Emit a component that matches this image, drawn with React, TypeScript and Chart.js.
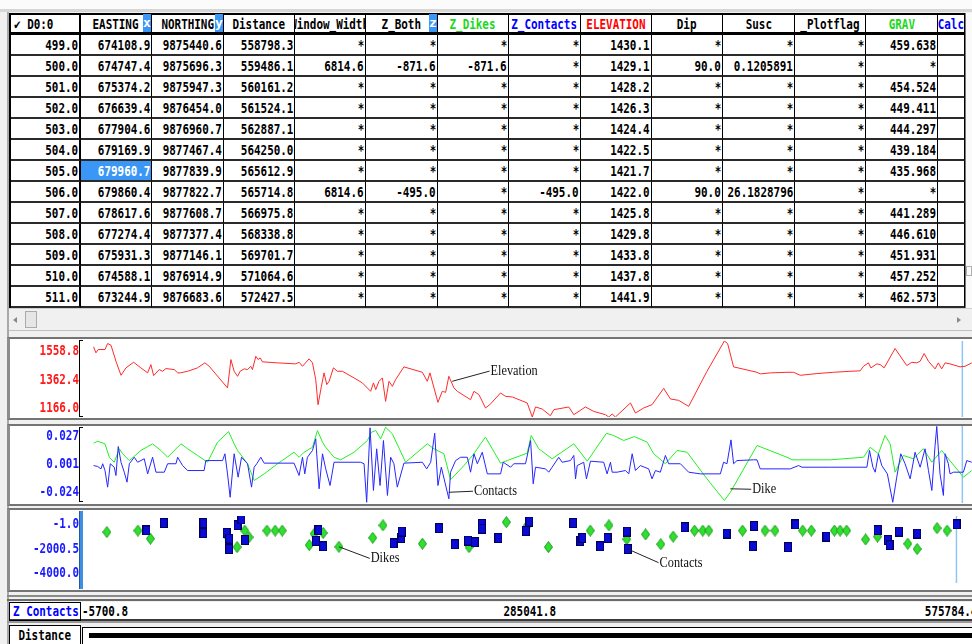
import React, { useEffect, useRef } from 'react';
import { Chart, registerables } from 'chart.js';

Chart.register(...registerables);

// ================= spreadsheet data =================
const rowIds = [499, 500, 501, 502, 503, 504, 505, 506, 507, 508, 509, 510, 511];
const easting = [674108.9, 674747.4, 675374.2, 676639.4, 677904.6, 679169.9, 679960.7, 679860.4, 678617.6, 677274.4, 675931.3, 674588.1, 673244.9];
const northing = [9875440.6, 9875696.3, 9875947.3, 9876454.0, 9876960.7, 9877467.4, 9877839.9, 9877822.7, 9877608.7, 9877377.4, 9877146.1, 9876914.9, 9876683.6];
const distance = [558798.3, 559486.1, 560161.2, 561524.1, 562887.1, 564250.0, 565612.9, 565714.8, 566975.8, 568338.8, 569701.7, 571064.6, 572427.5];
const windowWidth = [null, 6814.6, null, null, null, null, null, 6814.6, null, null, null, null, null];
const zBoth = [null, -871.6, null, null, null, null, null, -495.0, null, null, null, null, null];
const zDikes = [null, -871.6, null, null, null, null, null, null, null, null, null, null, null];
const zContacts = [null, null, null, null, null, null, null, -495.0, null, null, null, null, null];
const elevation = [1430.1, 1429.1, 1428.2, 1426.3, 1424.4, 1422.5, 1421.7, 1422.0, 1425.8, 1429.8, 1433.8, 1437.8, 1441.9];
const dip = [null, 90.0, null, null, null, null, null, 90.0, null, null, null, null, null];
const susc = [null, 0.1205891, null, null, null, null, null, 26.1828796, null, null, null, null, null];
const plotflag = [null, null, null, null, null, null, null, null, null, null, null, null, null];
const grav = [459.638, null, 454.524, 449.411, 444.297, 439.184, 435.968, null, 441.289, 446.610, 451.931, 457.252, 462.573];
const calc: (number | null)[] = [];
const selectedRow = 6;

// ================= profile data =================
const X_MIN = -5700.8;
const X_MAX = 575784.4;

const elevDist = [1200, 2700, 4200, 8600, 10300, 12500, 15700, 19000, 22200, 27200,
  31900, 36300, 38400, 40200, 43800, 46000, 48200, 53600, 55800, 57500,
  62300, 68700, 73500, 76300, 88200, 90400, 92500, 94700, 96400, 99000,
  101200, 103300, 104400, 106600, 108100, 109400, 110900, 120700, 132500, 134700,
  136900, 141200, 143400, 145500, 147000, 149200, 150900, 152700, 154200, 157000,
  159600, 162800, 170400, 175800, 181200, 183000, 184500, 186600, 188800, 190900,
  193100, 195300, 197400, 202800, 214800, 218000, 219700, 224900, 227700, 229900,
  232000, 235300, 237500, 246100, 248300, 251500, 252600, 255800, 258600, 265600,
  268800, 273200, 282900, 286200, 288300, 292600, 298000, 300200, 309900, 313200,
  320700, 326100, 333700, 335900, 338100, 340200, 350000, 353200, 358600, 364000,
  371600, 375900, 381300, 387800, 399700, 411000, 413100, 417000, 432200, 434300,
  440800, 451700, 455900, 460300, 471100, 481900, 492700, 499200, 501400, 504600,
  506200, 510100, 512200, 514800, 521900, 529500, 532800, 536000, 538200, 540800,
  543600, 547900, 550000, 552200, 554400, 557600, 564100, 567400, 571700];
const elevVal = [1528.7, 1497.6, 1514.7, 1514.7, 1545.8, 1537.0, 1454.1, 1381.6, 1419.9, 1448.9,
  1419.9, 1394.0, 1437.0, 1380.0, 1411.1, 1402.3, 1416.3, 1411.1, 1394.0, 1394.0,
  1402.3, 1419.9, 1445.8, 1428.2, 1316.3, 1462.9, 1402.3, 1376.4, 1402.3, 1414.7,
  1411.1, 1428.2, 1411.1, 1480.0, 1462.9, 1471.7, 1451.0, 1445.8, 1440.6, 1448.9,
  1428.2, 1466.6, 1445.8, 1359.3, 1229.7, 1324.6, 1394.0, 1333.4, 1350.5, 1419.9,
  1402.3, 1402.3, 1368.1, 1342.2, 1298.7, 1342.2, 1307.5, 1350.5, 1368.1, 1246.8,
  1350.5, 1324.6, 1359.3, 1425.1, 1397.1, 1350.5, 1394.0, 1241.7, 1298.7, 1293.5,
  1376.4, 1316.3, 1298.7, 1255.6, 1298.7, 1281.6, 1264.5, 1212.6, 1229.7, 1290.4,
  1272.7, 1269.6, 1238.5, 1166.0, 1217.8, 1207.5, 1172.7, 1203.8, 1217.8, 1177.9,
  1217.8, 1195.0, 1177.9, 1166.0, 1181.5, 1166.0, 1238.5, 1186.7, 1212.6, 1229.7,
  1314.2, 1259.3, 1252.0, 1220.9, 1402.3, 1558.8, 1545.8, 1425.1, 1397.1, 1388.8,
  1394.0, 1397.1, 1397.1, 1381.6, 1390.4, 1397.1, 1402.3, 1404.4, 1428.2, 1445.8,
  1419.9, 1440.6, 1437.0, 1419.9, 1519.9, 1431.8, 1448.9, 1445.8, 1454.1, 1494.0,
  1454.1, 1414.7, 1445.8, 1414.7, 1445.8, 1440.6, 1425.1, 1428.2, 1445.8];

const dikeDist = [1200, 3800, 8600, 11400, 14600, 17900, 20100, 24400, 31900, 39500,
  44900, 49300, 57900, 62300, 68700, 75200, 81700, 88900, 92500, 94700,
  101200, 105500, 112000, 120700, 131400, 134700, 137900, 143400, 146600, 149900,
  152000, 157400, 161700, 170400, 179100, 181700, 184500, 187700, 190900, 195300,
  203900, 218000, 222300, 228800, 233100, 241800, 248300, 252600, 255800, 265600,
  269900, 282900, 285500, 290400, 299100, 313200, 321900, 334400, 339100, 345600,
  352600, 360800, 365100, 372700, 380300, 386800, 399700, 411000, 414900, 432200,
  451700, 454900, 479800, 501400, 505700, 511100, 515400, 518700, 521900, 527300,
  533800, 540300, 545800, 552200, 566300, 571700];
const dikeVal = [0.0156, 0.0169, 0.0152, 0.0063, 0.0030, 0.0119, 0.0086, 0.0041, 0.0108, 0.0152,
  0.0108, 0.0063, 0.0152, 0.0119, 0.0075, 0.0030, 0.0163, 0.0233, 0.0152, 0.0108,
  0.0020, -0.0091, -0.0047, 0.0020, 0.0096, 0.0063, 0.0096, 0.0129, 0.0240, 0.0163,
  0.0129, 0.0063, 0.0046, 0.0096, 0.0174, 0.0229, 0.0240, 0.0185, 0.0262, 0.0218,
  0.0030, 0.0152, 0.0119, 0.0086, -0.0086, 0.0008, 0.0086, 0.0152, 0.0196, 0.0024,
  0.0041, 0.0090, 0.0207, 0.0119, 0.0053, 0.0152, 0.0037, 0.0222, 0.0207, 0.0174,
  0.0200, 0.0163, 0.0086, 0.0020, 0.0108, 0.0096, -0.0080, -0.0223, -0.0169, 0.0141,
  0.0063, 0.0046, 0.0046, 0.0063, 0.0129, 0.0086, 0.0207, 0.0152, -0.0036, 0.0075,
  0.0053, 0.0119, 0.0030, 0.0108, -0.0069, -0.0025];

const contDist = [1200, 3800, 6000, 7100, 8600, 10300, 12000, 14600, 15700, 17200,
  19000, 21100, 22900, 24400, 27600, 29800, 34100, 36300, 39500, 41700,
  47100, 49300, 54700, 55800, 59000, 62300, 73000, 74100, 85000, 86500,
  88200, 89900, 92500, 95100, 97300, 101200, 103800, 105500, 107200, 109800,
  112000, 131400, 134700, 136900, 138400, 140100, 143400, 145500, 147700, 149900,
  152000, 154800, 157400, 163900, 174700, 176900, 178600, 180800, 183000, 185100,
  187300, 189500, 192100, 194200, 196300, 198500, 202800, 214800, 217600, 220200,
  222800, 224900, 227100, 232000, 233100, 236400, 239600, 244000, 246100, 248300,
  250500, 253700, 257000, 265600, 267300, 272100, 274200, 281800, 285100, 286800,
  288300, 294800, 296900, 299100, 303400, 305600, 311000, 313200, 314300, 315400,
  319600, 321400, 324000, 332600, 334800, 337000, 338100, 341300, 346700, 348900,
  351100, 353200, 356400, 361800, 364000, 366200, 369400, 372700, 374800, 382400,
  387800, 395400, 408400, 410500, 412700, 415300, 417000, 419200, 430000, 432200,
  434300, 453800, 459200, 461400, 479800, 503600, 505300, 507500, 509000, 511100,
  513300, 516900, 520400, 523000, 525600, 528400, 531700, 534900, 538200, 541400,
  543600, 545800, 547900, 549000, 551100, 553300, 554400, 556500, 557600, 559800,
  566300, 568500, 571700];
const contVal = [0.0008, 0.0002, -0.0014, 0.0020, -0.0025, -0.0135, 0.0020, -0.0003, -0.0058, 0.0134,
  0.0030, -0.0036, -0.0102, 0.0020, 0.0063, 0.0030, 0.0053, -0.0047, 0.0063, -0.0036,
  -0.0036, 0.0020, 0.0020, 0.0063, 0.0008, -0.0025, -0.0025, 0.0041, 0.0041, 0.0086,
  -0.0047, -0.0202, 0.0086, -0.0069, 0.0063, 0.0020, -0.0135, -0.0003, 0.0020, 0.0063,
  0.0024, 0.0024, -0.0058, 0.0063, -0.0047, 0.0063, 0.0108, 0.0185, -0.0146, 0.0086,
  -0.0014, -0.0124, 0.0030, 0.0030, 0.0030, 0.0020, -0.0235, 0.0258, -0.0157, 0.0119,
  -0.0124, 0.0174, -0.0190, 0.0063, 0.0020, -0.0135, 0.0024, 0.0030, -0.0014, 0.0030,
  0.0222, -0.0124, -0.0003, -0.0212, -0.0036, 0.0041, 0.0063, 0.0063, -0.0036, 0.0086,
  0.0020, 0.0096, -0.0047, -0.0047, 0.0030, -0.0003, 0.0020, 0.0020, 0.0174, -0.0113,
  -0.0003, -0.0014, -0.0036, -0.0003, 0.0063, 0.0030, 0.0041, 0.0075, -0.0080, 0.0008,
  0.0030, -0.0080, 0.0037, 0.0030, -0.0047, 0.0030, -0.0036, -0.0036, -0.0025, -0.0047,
  0.0086, -0.0025, 0.0008, -0.0014, -0.0080, -0.0025, -0.0036, 0.0075, 0.0020, 0.0020,
  -0.0036, -0.0047, -0.0047, 0.0030, 0.0020, 0.0178, 0.0020, 0.0041, 0.0046, 0.0046,
  -0.0014, -0.0014, 0.0008, -0.0003, -0.0003, -0.0003, 0.0108, -0.0003, -0.0036, 0.0086,
  0.0008, -0.0047, -0.0235, -0.0069, 0.0086, 0.0020, -0.0080, 0.0096, -0.0003, 0.0119,
  -0.0025, -0.0157, 0.0141, 0.0267, -0.0047, -0.0190, 0.0086, 0.0020, -0.0047, -0.0036,
  -0.0036, 0.0041, 0.0030];

const dikesZDist = [9900, 30200, 38400, 89100, 95100, 100100, 102900, 114600, 120000, 124600,
  142300, 145500, 151400, 161700, 183800, 190500, 216300, 246800, 271200, 285100,
  298700, 326100, 338300, 350000, 362300, 372200, 380300, 394300, 399700, 403600,
  425700, 440400, 446900, 465000, 470700, 485800, 489500, 493800, 506200, 514000,
  533800, 539900, 552900, 559500];
const dikesZ = [-962, -871.6, -1352, -1266, -1858, -871.6, -1266, -871.6, -871.6, -871.6,
  -1737, -1064, -1013, -1838, -1301, -558, -1656, -1858, -370, -558,
  -1858, -871.6, -558, -1382, -1099, -1686, -1231, -871.6, -871.6, -871.6,
  -871.6, -871.6, -871.6, -871.6, -871.6, -871.6, -871.6, -871.6, -1403, -1231,
  -1656, -1974, -725, -871.6];

const contactsZDist = [35800, 47100, 73000, 73000, 88200, 89900, 89900, 95400, 97900, 100300,
  146600, 148300, 151400, 197400, 202400, 202800, 227300, 237500, 246100, 250500,
  255200, 255200, 266000, 284000, 286200, 314900, 319600, 320900, 332600, 337400,
  350000, 350600, 387800, 415300, 433200, 432600, 455500, 460300, 480600, 514000,
  520800, 521900, 528000, 539900, 565700];
const contactsZ = [-861, -421, -421, -1028, -1013, -1352, -1974, -542, -203, -1433,
  -1484, -846, -1807, -1635, -1317, -927, -725, -1686, -1468, -1570,
  -472, -760, -1317, -897, -340, -421, -1484, -1317, -1807, -1317,
  -927, -1974, -674, -1048, -593, -1807, -1858, -507, -1231, -846,
  -1433, -1737, -927, -1048, -495.0];

const elevTicks = [1166.0, 1362.4, 1558.8];
const elevTickLabels = ['1166.0', '1362.4', '1558.8'];
const gradTicks = [-0.024, 0.0015, 0.027];
const gradTickLabels = ['-0.024', '0.001', '0.027'];
const depthTicks = [-4000.0, -2000.5, -1.0];
const depthTickLabels = ['-4000.0', '-2000.5', '-1.0'];

type Note = { text: string; ax: number; ay: number; tx: number; ty: number };
const elevNotes: Note[] = [{ text: 'Elevation', ax: 234200, ay: 1350.5, tx: 259100, ty: 1403.3 }];
const gradNotes: Note[] = [
  { text: 'Contacts', ax: 232000, ay: -0.0169, tx: 248300, ty: -0.0162 },
  { text: 'Dike', ax: 414900, ay: -0.0146, tx: 429100, ty: -0.0149 },
];
const depthNotes: Note[] = [
  { text: 'Dikes', ax: 161700, ay: -1838, tx: 182500, ty: -2531 },
  { text: 'Contacts', ax: 350600, ay: -1974, tx: 371400, ty: -2784 },
];

// ================= layout / styles =================
const MONO = '"DejaVu Sans Mono", "Liberation Mono", monospace';
const SQ = 0.78;
const CANVAS_L = 10;
const CANVAS_W = 968;
const AXIS_W = 73;
const colEdges = [11, 81, 152, 224, 295, 366, 438, 509, 581, 652, 723, 795, 866, 938, 965];
const HEAD_TOP = 13;
const ROW0 = 35;
const ROW_H = 21;

type Val = number | null | undefined;
const sheetCols: { name: string; values: Val[]; dec: number; color: string; tag?: string }[] = [
  { name: 'EASTING', values: easting, dec: 1, color: '#000', tag: 'x' },
  { name: 'NORTHING', values: northing, dec: 1, color: '#000', tag: 'y' },
  { name: 'Distance', values: distance, dec: 1, color: '#000' },
  { name: 'Window_Width', values: windowWidth, dec: 1, color: '#000' },
  { name: 'Z_Both', values: zBoth, dec: 1, color: '#000', tag: 'z' },
  { name: 'Z_Dikes', values: zDikes, dec: 1, color: '#1ed81e' },
  { name: 'Z_Contacts', values: zContacts, dec: 1, color: '#0000ff' },
  { name: 'ELEVATION', values: elevation, dec: 1, color: '#ff0000' },
  { name: 'Dip', values: dip, dec: 1, color: '#000' },
  { name: 'Susc', values: susc, dec: 7, color: '#000' },
  { name: '_Plotflag', values: plotflag, dec: 1, color: '#000' },
  { name: 'GRAV', values: grav, dec: 3, color: '#1ed81e' },
  { name: 'Calc', values: calc, dec: 1, color: '#0000ff' },
];

function fmt(v: Val, dec: number) {
  if (v === undefined) return '';
  if (v === null) return '*';
  return v.toFixed(dec);
}

function Cell(p: {
  left: number; top: number; width: number; height: number; text: string;
  align: 'left' | 'right' | 'center'; color?: string; bg?: string; bR?: string; bT?: string; bB?: string; bL?: string;
}) {
  const jc = p.align === 'right' ? 'flex-end' : p.align === 'left' ? 'flex-start' : 'center';
  const origin = p.align === 'right' ? 'right center' : p.align === 'left' ? 'left center' : 'center center';
  return (
    <div style={{
      position: 'absolute', left: p.left, top: p.top, width: p.width, height: p.height, boxSizing: 'border-box',
      borderRight: p.bR, borderTop: p.bT, borderBottom: p.bB, borderLeft: p.bL, background: p.bg,
      display: 'flex', alignItems: 'center', justifyContent: jc, overflow: 'hidden',
      paddingRight: p.align === 'right' ? 1 : 0, paddingLeft: p.align === 'left' ? 3 : 0,
    }}>
      <span style={{
        flexShrink: 0, whiteSpace: 'pre', display: 'inline-block', transform: `scaleX(${SQ})`, transformOrigin: origin,
        color: p.color || '#000', fontFamily: MONO, fontWeight: 700, fontSize: 14, lineHeight: '14px',
      }}>{p.text}</span>
    </div>
  );
}

function Sheet() {
  const out: React.ReactNode[] = [];
  const headers = ['\u2714 D0:0', ...sheetCols.map((c) => c.name)];
  headers.forEach((h, c) => {
    out.push(
      <Cell key={'h' + c} left={colEdges[c]} top={HEAD_TOP} width={colEdges[c + 1] - colEdges[c]} height={ROW0 - HEAD_TOP}
        text={h} align={c === 0 ? 'left' : 'center'} color={c === 0 ? '#000' : sheetCols[c - 1].color}
        bR={c === 0 ? '2px solid #000' : '1px solid #000'} bT="2px solid #000" bB="3px solid #000" bg="#fff" />
    );
    const tag = c > 0 ? sheetCols[c - 1].tag : undefined;
    if (tag) {
      out.push(
        <div key={'t' + c} style={{
          position: 'absolute', left: colEdges[c + 1] - 9, top: HEAD_TOP + 1, width: 8, height: 18, background: '#3a97f5',
          color: '#fff', fontFamily: MONO, fontWeight: 700, fontSize: 13, lineHeight: '18px', textAlign: 'center', overflow: 'hidden',
        }}>{tag}</div>
      );
    }
  });
  rowIds.forEach((id, r) => {
    const top = ROW0 + r * ROW_H;
    out.push(
      <Cell key={'r' + r} left={colEdges[0]} top={top} width={colEdges[1] - colEdges[0]} height={ROW_H}
        text={id.toFixed(1)} align="right" bR="2px solid #000" bB="2px solid #2a2a2a" bg="#fff" />
    );
    sheetCols.forEach((col, c) => {
      const sel = r === selectedRow && c === 0;
      out.push(
        <Cell key={'c' + r + '_' + c} left={colEdges[c + 1]} top={top} width={colEdges[c + 2] - colEdges[c + 1]} height={ROW_H}
          text={fmt(col.values[r], col.dec)} align="right" color={sel ? '#fff' : '#000'} bg={sel ? '#3a97f5' : '#fff'}
          bR="1px solid #000" bB="2px solid #2a2a2a" />
      );
    });
  });
  return (
    <>
      <div style={{ position: 'absolute', left: 9, top: HEAD_TOP, width: 2, height: ROW0 + rowIds.length * ROW_H - HEAD_TOP, background: '#000' }} />
      {out}
    </>
  );
}

// ----- chart overlay plugin: cursor line, notes, y labels -----
const overlay = {
  id: 'overlay',
  beforeDatasetsDraw(chart: any, _a: any, opts: any) {
    const { ctx, chartArea: a, scales } = chart;
    const x = scales.x.getPixelForValue(opts.cursor);
    ctx.save();
    ctx.strokeStyle = '#8ec5f7';
    ctx.lineWidth = 1.5;
    ctx.beginPath();
    ctx.moveTo(x, a.top);
    ctx.lineTo(x, a.bottom);
    ctx.stroke();
    ctx.restore();
  },
  afterDatasetsDraw(chart: any, _a: any, opts: any) {
    const { ctx, scales } = chart;
    for (const n of opts.notes as Note[]) {
      const ax = scales.x.getPixelForValue(n.ax);
      const ay = scales.y.getPixelForValue(n.ay);
      const tx = scales.x.getPixelForValue(n.tx);
      const ty = scales.y.getPixelForValue(n.ty);
      ctx.save();
      ctx.strokeStyle = '#222';
      ctx.lineWidth = 1;
      ctx.beginPath();
      ctx.moveTo(ax, ay);
      ctx.lineTo(tx - 1, ty);
      ctx.stroke();
      ctx.translate(tx, ty);
      ctx.scale(0.82, 1);
      ctx.font = '15px "Liberation Serif", "DejaVu Serif", serif';
      ctx.fillStyle = '#111';
      ctx.textAlign = 'left';
      ctx.textBaseline = 'middle';
      ctx.fillText(n.text, 0, 0);
      ctx.restore();
    }
    const s = chart.scales.yl;
    s.ticks.forEach((t: any, i: number) => {
      const y = s.getPixelForValue(t.value);
      ctx.save();
      ctx.translate(s.right - 4, y);
      ctx.scale(SQ, 1);
      ctx.font = 'bold 14px ' + MONO;
      ctx.fillStyle = opts.labelColor;
      ctx.textAlign = 'right';
      ctx.textBaseline = 'middle';
      ctx.fillText(opts.labels[i], 0, 0);
      ctx.restore();
    });
  },
};

type Series = { xs: number[]; ys: number[]; color: string; marker?: 'diamond' | 'square' };

function markerCanvas(kind: 'diamond' | 'square') {
  const c = document.createElement('canvas');
  const g = c.getContext('2d')!;
  if (kind === 'diamond') {
    c.width = 9; c.height = 12;
    g.beginPath();
    g.moveTo(4.5, 0.5); g.lineTo(8.5, 6); g.lineTo(4.5, 11.5); g.lineTo(0.5, 6); g.closePath();
    g.fillStyle = '#2fe02f'; g.fill();
    g.strokeStyle = '#189a18'; g.lineWidth = 1; g.stroke();
  } else {
    c.width = 8; c.height = 10;
    g.fillStyle = '#0b0bd6'; g.fillRect(0, 0, 8, 10);
    g.strokeStyle = '#00005a'; g.lineWidth = 1; g.strokeRect(0.5, 0.5, 7, 9);
  }
  return c;
}

function Profile(p: {
  top: number; height: number; yMin: number; yMax: number; tickVals: number[]; tickLabels: string[];
  tickColor: string; insetTop: number; insetBottom: number; series: Series[]; notes: Note[];
}) {
  const ref = useRef<HTMLCanvasElement>(null);
  useEffect(() => {
    const k = (p.yMax - p.yMin) / (p.height - p.insetTop - p.insetBottom);
    const datasets = p.series.map((s) => {
      const data = s.xs.map((x, i) => ({ x, y: s.ys[i] }));
      if (s.marker) {
        return {
          data, showLine: false, pointStyle: markerCanvas(s.marker), pointRadius: 5, pointHoverRadius: 5,
          borderColor: s.color, backgroundColor: s.color, yAxisID: 'y',
        };
      }
      return {
        data, borderColor: s.color, borderWidth: 1, pointRadius: 0, tension: 0, fill: false, yAxisID: 'y',
      };
    });
    const chart = new Chart(ref.current!, {
      type: 'line',
      data: { datasets: datasets as any },
      options: {
        animation: false,
        responsive: false,
        maintainAspectRatio: false,
        events: [],
        layout: { padding: 0 },
        plugins: {
          legend: { display: false },
          tooltip: { enabled: false },
          overlay: { cursor: distance[selectedRow], notes: p.notes, labels: p.tickLabels, labelColor: p.tickColor },
        } as any,
        scales: {
          x: { type: 'linear', min: X_MIN, max: X_MAX, display: false },
          y: { type: 'linear', min: p.yMin, max: p.yMax, display: false },
          yl: {
            type: 'linear', position: 'left',
            min: p.yMin - p.insetBottom * k, max: p.yMax + p.insetTop * k,
            grid: { display: false }, border: { display: false }, ticks: { display: false },
            afterBuildTicks: (s: any) => { s.ticks = p.tickVals.map((v) => ({ value: v })); },
            afterFit: (s: any) => { s.width = AXIS_W; },
          },
        } as any,
      },
      plugins: [overlay as any],
    });
    return () => chart.destroy();
  }, []);
  return (
    <canvas ref={ref} width={CANVAS_W} height={p.height}
      style={{ position: 'absolute', left: CANVAS_L, top: p.top, width: CANVAS_W, height: p.height }} />
  );
}

function Frame({ top, bottom }: { top: number; bottom: number }) {
  return (
    <div style={{
      position: 'absolute', left: 7, top, width: 972 - 7, height: bottom - top, boxSizing: 'border-box',
      background: '#fff', borderTop: '2px solid #747474', borderBottom: '2px solid #747474', borderLeft: '3px solid #8c8c8c',
    }} />
  );
}

function Bracket({ top, bottom, selected }: { top: number; bottom: number; selected?: boolean }) {
  if (selected) {
    return <div style={{ position: 'absolute', left: 79, top, width: 4, height: bottom - top, background: '#3d8fe3', borderLeft: '1px solid #245a96', boxSizing: 'border-box' }} />;
  }
  return <div style={{ position: 'absolute', left: 79, top, width: 4, height: bottom - top, boxSizing: 'border-box', borderLeft: '1px solid #000', borderTop: '1px solid #000', borderBottom: '1px solid #000' }} />;
}

function Txt({ left, top, text, color, align, width }: { left: number; top: number; text: string; color?: string; align: 'left' | 'right' | 'center'; width: number }) {
  return <Cell left={left} top={top} width={width} height={18} text={text} align={align} color={color} />;
}

export default function App() {
  useEffect(() => { document.body.style.margin = '0'; }, []);
  const mid = (X_MIN + X_MAX) / 2;
  return (
    <div style={{ position: 'fixed', left: 0, top: 0, width: 972, height: 644, overflow: 'hidden', background: '#f0f0f0' }}>
      <div style={{ position: 'absolute', left: 0, top: 0, width: 972, height: 9, background: '#fbfbfb' }} />
      <div style={{ position: 'absolute', left: 0, top: 9, width: 972, height: 3, background: '#d6d6d6' }} />
      <div style={{ position: 'absolute', left: 7, top: 12, width: 2, height: 632, background: '#a8a8a8' }} />

      <Sheet />
      {/* right scrollbar stub */}
      <div style={{ position: 'absolute', left: 965, top: HEAD_TOP, width: 7, height: 295, background: '#fafafa', borderLeft: '1px solid #777', boxSizing: 'border-box' }} />
      <div style={{ position: 'absolute', left: 966, top: 266, width: 6, height: 10, border: '1px solid #b0b0b0', boxSizing: 'border-box' }} />
      {/* horizontal scrollbar */}
      <div style={{ position: 'absolute', left: 9, top: 308, width: 963, height: 22, background: '#f0f0f0', borderTop: '1px solid #cfcfcf', boxSizing: 'border-box' }} />
      <div style={{ position: 'absolute', left: 13, top: 317, width: 0, height: 0, borderTop: '3px solid transparent', borderBottom: '3px solid transparent', borderRight: '4px solid #8a8a8a' }} />
      <div style={{ position: 'absolute', left: 25, top: 311, width: 12, height: 17, background: '#e6e6e6', border: '1px solid #ababab', boxSizing: 'border-box' }} />
      <div style={{ position: 'absolute', left: 957, top: 317, width: 0, height: 0, borderTop: '3px solid transparent', borderBottom: '3px solid transparent', borderLeft: '4px solid #8a8a8a' }} />
      <div style={{ position: 'absolute', left: 9, top: 330, width: 963, height: 1, background: '#c0c0c0' }} />

      <Frame top={337} bottom={420} />
      <Frame top={424} bottom={506} />
      <Frame top={508} bottom={592} />

      <Profile top={341} height={76} yMin={1166.0} yMax={1558.8} tickVals={elevTicks} tickLabels={elevTickLabels}
        tickColor="#ff1a1a" insetTop={10.7} insetBottom={8.3} notes={elevNotes}
        series={[{ xs: elevDist, ys: elevVal, color: '#ff2a2a' }]} />
      <Profile top={426} height={77} yMin={-0.024} yMax={0.027} tickVals={gradTicks} tickLabels={gradTickLabels}
        tickColor="#1a1aff" insetTop={10.7} insetBottom={10.3} notes={gradNotes}
        series={[{ xs: contDist, ys: contVal, color: '#2626ff' }, { xs: dikeDist, ys: dikeVal, color: '#22f022' }]} />
      <Profile top={510} height={79} yMin={-4000.0} yMax={-1.0} tickVals={depthTicks} tickLabels={depthTickLabels}
        tickColor="#1a1aff" insetTop={10} insetBottom={11.3} notes={depthNotes}
        series={[
          { xs: contactsZDist, ys: contactsZ, color: '#0b0bd6', marker: 'square' },
          { xs: dikesZDist, ys: dikesZ, color: '#2fe02f', marker: 'diamond' },
        ]} />

      <Bracket top={340} bottom={417} />
      <Bracket top={427} bottom={502} />
      <Bracket top={511} bottom={589} selected />

      {/* range readout */}
      <div style={{ position: 'absolute', left: 7, top: 595, width: 965, height: 2, background: '#8a8a8a' }} />
      <div style={{ position: 'absolute', left: 7, top: 599, width: 965, height: 2, background: '#6a6a6a' }} />
      <div style={{ position: 'absolute', left: 9, top: 602, width: 963, height: 19, background: '#fff', borderBottom: '2px solid #3a3a3a', boxSizing: 'border-box' }} />
      <div style={{ position: 'absolute', left: 9, top: 602, width: 72, height: 19, border: '1px solid #000', boxSizing: 'border-box' }} />
      <Txt left={10} top={602} width={70} text="Z Contacts" color="#0000ff" align="left" />
      <Txt left={79} top={602} width={200} text={X_MIN.toFixed(1)} align="left" />
      <Txt left={430} top={602} width={200} text={mid.toFixed(1)} align="center" />
      <Txt left={778} top={602} width={200} text={X_MAX.toFixed(1)} align="right" />

      <div style={{ position: 'absolute', left: 7, top: 621, width: 965, height: 2, background: '#9a9a9a' }} />
      <div style={{ position: 'absolute', left: 9, top: 625, width: 72, height: 20, border: '1px solid #000', background: '#fff', boxSizing: 'border-box' }} />
      <Txt left={10} top={626} width={70} text="Distance" align="center" />
      <div style={{ position: 'absolute', left: 82, top: 627, width: 900, height: 20, background: '#fff', borderTop: '1px solid #000', borderLeft: '1px solid #000', boxSizing: 'border-box' }} />
      <div style={{ position: 'absolute', left: 89, top: 633, width: 890, height: 5, background: '#000' }} />
    </div>
  );
}
